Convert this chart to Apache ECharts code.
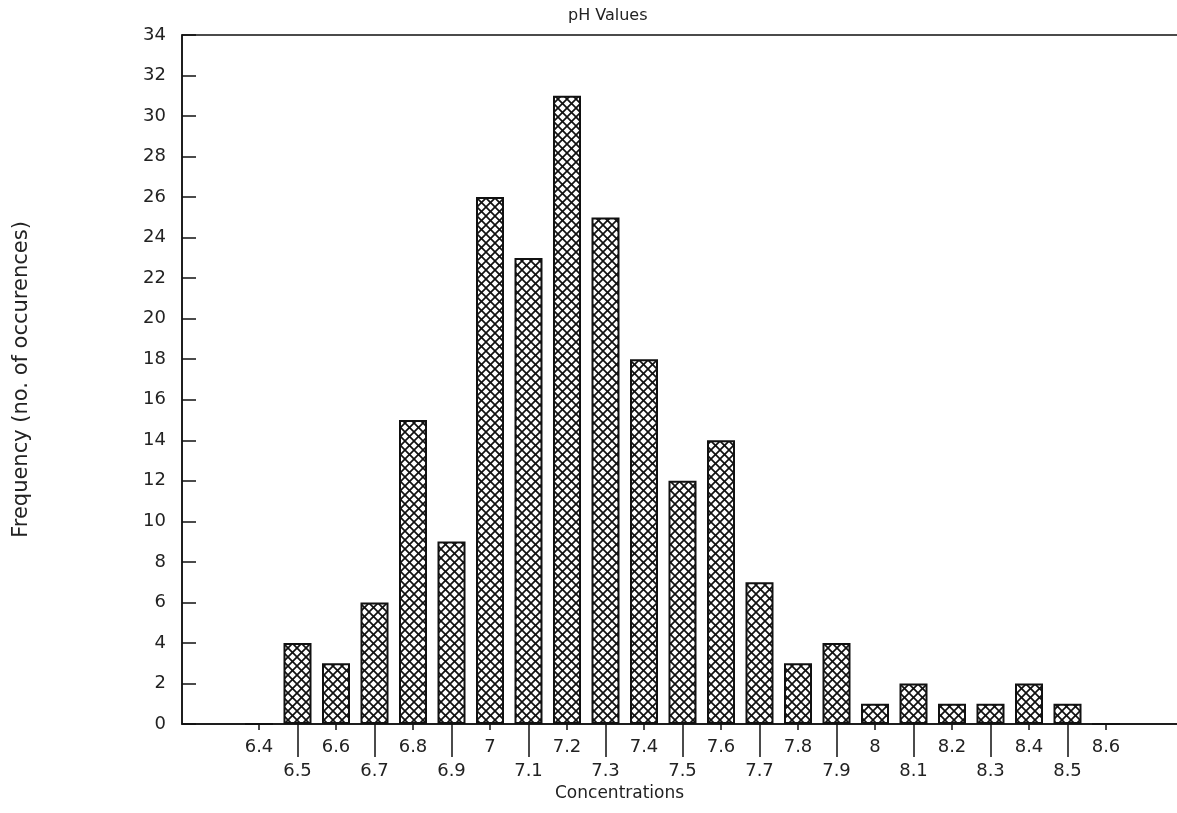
<!DOCTYPE html>
<html>
<head>
<meta charset="utf-8">
<script src="https://cdn.jsdelivr.net/npm/echarts@6/dist/echarts.min.js"></script>
<style>
html,body{margin:0;padding:0;background:#fff;overflow:hidden;}
#chart{width:1177px;height:813px;}
</style>
</head>
<body>
<div id="chart"></div>
<script>
// Axis positions (category slots) — includes empty slots beyond the data
const axisCategories = ['6.2','6.3','6.4','6.5','6.6','6.7','6.8','6.9','7','7.1','7.2','7.3','7.4','7.5','7.6','7.7','7.8','7.9','8','8.1','8.2','8.3','8.4','8.5','8.6','8.7','8.8'];
// pH bins and their frequency counts
const phBins = ['6.4','6.5','6.6','6.7','6.8','6.9','7','7.1','7.2','7.3','7.4','7.5','7.6','7.7','7.8','7.9','8','8.1','8.2','8.3','8.4','8.5','8.6'];
const counts = [0,4,3,6,15,9,26,23,31,25,18,12,14,7,3,4,1,2,1,1,2,1,0];
const yTicks = {min:0, max:34, step:2};
const titleText = 'pH Values';
const xName = 'Concentrations';
const yName = 'Frequency (no. of occurences)';

const seriesData = axisCategories.map(c => {
  const i = phBins.indexOf(c);
  return i >= 0 ? counts[i] : null;
});

function hatch() {
  const s = 9;
  const c = document.createElement('canvas');
  c.width = s; c.height = s;
  const g = c.getContext('2d');
  g.fillStyle = '#fff'; g.fillRect(0,0,s,s);
  g.strokeStyle = '#111'; g.lineWidth = 1.7;
  for (const o of [-s, 0, s]) {
    g.beginPath(); g.moveTo(-1+o, -1); g.lineTo(s+1+o, s+1); g.stroke();
    g.beginPath(); g.moveTo(s+1+o, -1); g.lineTo(-1+o, s+1); g.stroke();
  }
  return c;
}

const font = 'DejaVu Sans';
const chart = echarts.init(document.getElementById('chart'));
const evenShow = (i) => i % 2 === 0 && i >= 2 && i <= 24;
const oddShow = (i) => i % 2 === 1 && i >= 3 && i <= 23;

chart.setOption({
  animation: false,
  backgroundColor: '#fff',
  title: {
    text: titleText, left: 563, top: 3,
    textStyle: {fontFamily: font, fontSize: 16, fontWeight: 'normal', color: '#222'}
  },
  grid: {
    left: 182, width: 1001, top: 35, height: 689,
    outerBoundsMode: 'none', containLabel: false,
    show: true, borderColor: '#111', borderWidth: 1.5, backgroundColor: 'transparent'
  },
  xAxis: [{
    type: 'category', data: axisCategories, boundaryGap: false, position: 'bottom',
    axisLine: {onZero: false, lineStyle: {color: '#111', width: 1.5}},
    axisTick: {show: true, interval: evenShow, length: 6, lineStyle: {color: '#111', width: 1.5}},
    axisLabel: {interval: evenShow, margin: 14, fontFamily: font, fontSize: 18, color: '#222'},
    splitLine: {show: false}
  }, {
    type: 'category', data: axisCategories, boundaryGap: false, position: 'bottom',
    axisLine: {show: false, onZero: false},
    axisTick: {show: true, interval: oddShow, length: 33, lineStyle: {color: '#111', width: 1.5}},
    axisLabel: {interval: oddShow, margin: 38, fontFamily: font, fontSize: 18, color: '#222'},
    splitLine: {show: false}
  }],
  yAxis: {
    type: 'value', min: yTicks.min, max: yTicks.max, interval: yTicks.step,
    name: yName, nameLocation: 'middle', nameGap: 150, nameRotate: 90,
    nameTextStyle: {fontFamily: font, fontSize: 21, color: '#222'},
    axisLine: {show: true, lineStyle: {color: '#111', width: 1.5}},
    axisTick: {show: true, inside: true, length: 14, lineStyle: {color: '#111', width: 1.5}},
    axisLabel: {margin: 16, fontFamily: font, fontSize: 18, color: '#222'},
    splitLine: {show: false}
  },
  graphic: [{
    type: 'text', left: 555, top: 785,
    style: {text: xName, font: '17px "DejaVu Sans"', fill: '#222'}
  }],
  series: [{
    type: 'bar', xAxisIndex: 0, data: seriesData, barWidth: 28,
    itemStyle: {color: {image: hatch(), repeat: 'repeat'}, borderColor: '#111', borderWidth: 2}
  }]
});
</script>
</body>
</html>
